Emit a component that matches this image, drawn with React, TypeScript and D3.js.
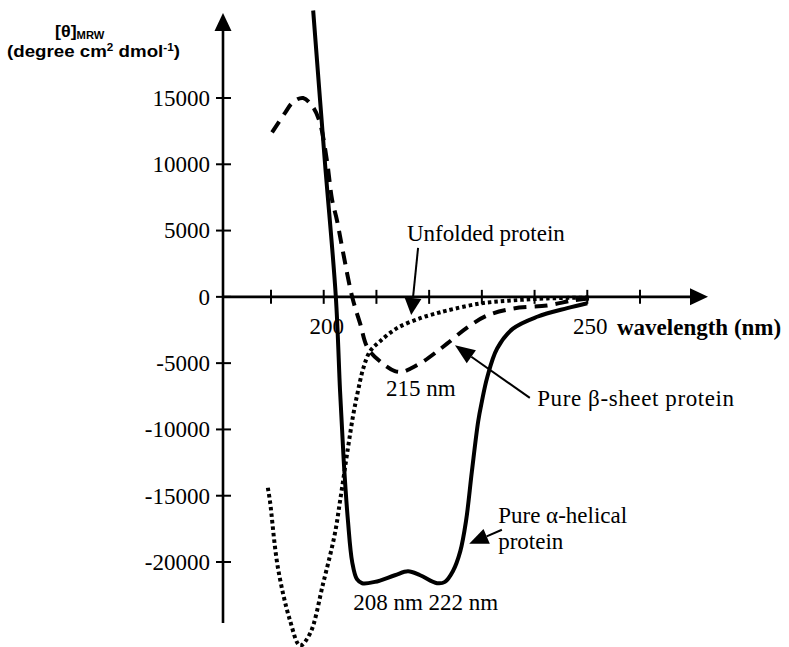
import React from "react";
import * as d3 from "d3";

// Mean residue ellipticity spectra (wavelength in nm, [θ] in degree cm² dmol⁻¹)
const alphaWavelength = [198.0, 200.2, 202.3, 203.1, 203.8, 204.6, 205.4, 206.3, 207.3, 209.7, 213.5, 216.0, 218.3, 221.5, 223.0, 224.5, 225.9, 227.0, 228.1, 229.3, 230.0, 231.0, 232.9, 235.9, 240.5, 246.2, 250.0];
const alphaValue = [21600, 10300, 0, -7100, -12400, -16900, -20000, -21300, -21600, -21500, -21000, -20700, -21000, -21600, -21500, -20700, -19200, -16900, -13200, -9400, -7900, -6100, -3900, -2400, -1500, -850, -480];

const betaWavelength = [190.2, 192.7, 194.2, 196.1, 198.0, 199.3, 200.6, 201.6, 202.5, 203.7, 205.4, 206.9, 208.4, 211.1, 213.5, 215.0, 216.5, 218.8, 221.7, 223.4, 227.2, 231.0, 235.9, 242.4, 247.3, 250.5];
const betaValue = [12400, 13900, 14700, 15000, 14300, 13100, 10300, 7300, 5800, 3300, 0, -2000, -3900, -5000, -5600, -5650, -5400, -4900, -4060, -3530, -2320, -1410, -880, -650, -270, -120];

const unfoldedWavelength = [189.4, 189.8, 191.3, 193.6, 195.5, 197.4, 199.9, 202.1, 203.1, 204.6, 205.6, 206.5, 207.5, 208.8, 210.7, 213.9, 218.3, 221.5, 223.4, 229.7, 235.9, 242.4, 250.5];
const unfoldedValue = [-14400, -15400, -20400, -24400, -26300, -25400, -21600, -17900, -15400, -11400, -8900, -7100, -5400, -4100, -3350, -2360, -1610, -1230, -1030, -500, -270, -120, -50];

const xTickValues = [190, 200, 210, 220, 230, 240, 250, 260];
const xTickLabels = ["", "200", "", "", "", "", "250", ""];
const yTickValues = [15000, 10000, 5000, 0, -5000, -10000, -15000, -20000];
const yTickLabels = ["15000", "10000", "5000", "0", "-5000", "-10000", "-15000", "-20000"];

const W = 789;
const H = 647;
const SERIF = "'Liberation Serif', 'Times New Roman', serif";
const SANS = "'Liberation Sans', Arial, sans-serif";

const x = d3.scaleLinear().domain([190, 260]).range([271, 640]);
const y = d3.scaleLinear().domain([15000, -20000]).range([98, 562]);

const axisX = 223; // vertical axis position
const axisY = y(0);

const toPoints = (wl: number[], v: number[]) => wl.map((w, i) => [w, v[i]] as [number, number]);

const line = d3
  .line<[number, number]>()
  .x((d) => x(d[0]))
  .y((d) => y(d[1]))
  .curve(d3.curveCatmullRom.alpha(0.5));

function Arrow({ x1, y1, x2, y2, len = 18, half = 8 }: { x1: number; y1: number; x2: number; y2: number; len?: number; half?: number }) {
  const dx = x2 - x1;
  const dy = y2 - y1;
  const L = Math.hypot(dx, dy);
  const ux = dx / L;
  const uy = dy / L;
  const bx = x2 - ux * len;
  const by = y2 - uy * len;
  const px = -uy;
  const py = ux;
  const pts = [
    [x2, y2],
    [bx + px * half, by + py * half],
    [bx - px * half, by - py * half],
  ]
    .map((p) => p.join(","))
    .join(" ");
  return (
    <g>
      <line x1={x1} y1={y1} x2={bx} y2={by} stroke="#000" strokeWidth={2} />
      <polygon points={pts} fill="#000" />
    </g>
  );
}

export default function App() {
  const alpha = line(toPoints(alphaWavelength, alphaValue)) || "";
  const beta = line(toPoints(betaWavelength, betaValue)) || "";
  const unfolded = line(toPoints(unfoldedWavelength, unfoldedValue)) || "";

  return (
    <svg width={W} height={H} style={{ position: "absolute", left: 0, top: 0, background: "#fff" }}>
      <rect width={W} height={H} fill="#fff" />

      {/* y-axis title */}
      <g transform="translate(55,37) scale(1.12,1)" fontFamily={SANS} fontWeight="bold">
        <text fontSize={16}>
          [θ]<tspan fontSize={10} dy={2}>MRW</tspan>
        </text>
      </g>
      <g transform="translate(7,57) scale(1.17,1)" fontFamily={SANS} fontWeight="bold">
        <text fontSize={16}>
          (degree cm<tspan fontSize={10} dy={-6}>2</tspan>
          <tspan dy={6}> dmol</tspan>
          <tspan fontSize={10} dy={-6}>-1</tspan>
          <tspan dy={6}>)</tspan>
        </text>
      </g>

      {/* axes */}
      <line x1={axisX} y1={31} x2={axisX} y2={623} stroke="#000" strokeWidth={2.6} />
      <polygon points={`${axisX},13 ${axisX - 8.5},31 ${axisX + 8.5},31`} fill="#000" />
      <line x1={axisX} y1={axisY} x2={690} y2={axisY} stroke="#000" strokeWidth={2.6} />
      <polygon points={`708,${axisY} 690,${axisY - 8.5} 690,${axisY + 8.5}`} fill="#000" />

      {yTickValues.map((v, i) => (
        <g key={`yt${v}`}>
          <line x1={axisX - 7} x2={axisX + 8} y1={y(v)} y2={y(v)} stroke="#000" strokeWidth={2} />
          <text x={210} y={y(v)} dy="0.34em" textAnchor="end" fontFamily={SERIF} fontSize={23}>
            {yTickLabels[i]}
          </text>
        </g>
      ))}

      {xTickValues.map((v, i) => (
        <g key={`xt${v}`}>
          <line x1={x(v)} x2={x(v)} y1={axisY - 7} y2={axisY + 7} stroke="#000" strokeWidth={2} />
          {xTickLabels[i] && (
            <text x={x(v) + 3} y={axisY + 37} textAnchor="middle" fontFamily={SERIF} fontSize={23}>
              {xTickLabels[i]}
            </text>
          )}
        </g>
      ))}
      <text x={617} y={axisY + 38} fontFamily={SERIF} fontSize={23} fontWeight="bold">
        wavelength (nm)
      </text>

      {/* spectra */}
      <path d={unfolded} fill="none" stroke="#000" strokeWidth={4} strokeDasharray="3.5 3" />
      <path d={beta} fill="none" stroke="#000" strokeWidth={4} strokeDasharray="13 8" />
      <path d={alpha} fill="none" stroke="#000" strokeWidth={4} />

      {/* annotations */}
      <text x={x(215.8)} y={y(4220)} fontFamily={SERIF} fontSize={23}>
        Unfolded protein
      </text>
      <Arrow x1={x(217.9)} y1={y(3690)} x2={x(216.6)} y2={y(-1365)} len={17} half={8.5} />

      <text x={x(240.5)} y={y(-8220)} fontFamily={SERIF} fontSize={23} letterSpacing={0.6}>
        Pure β-sheet protein
      </text>
      <Arrow x1={x(239.1)} y1={y(-7620)} x2={x(224.9)} y2={y(-3650)} len={20} half={8} />

      <text x={x(233.1)} y={y(-17040)} fontFamily={SERIF} fontSize={23}>
        Pure α-helical
      </text>
      <text x={x(233.1)} y={y(-19000)} fontFamily={SERIF} fontSize={23}>
        protein
      </text>
      <Arrow x1={x(233.8)} y1={y(-17570)} x2={x(227.6)} y2={y(-18630)} len={19} half={8} />

      <text x={x(211.8)} y={y(-7460)} fontFamily={SERIF} fontSize={23}>
        215 nm
      </text>
      <text x={x(205.6)} y={y(-23620)} fontFamily={SERIF} fontSize={23}>
        208 nm 222 nm
      </text>
    </svg>
  );
}
